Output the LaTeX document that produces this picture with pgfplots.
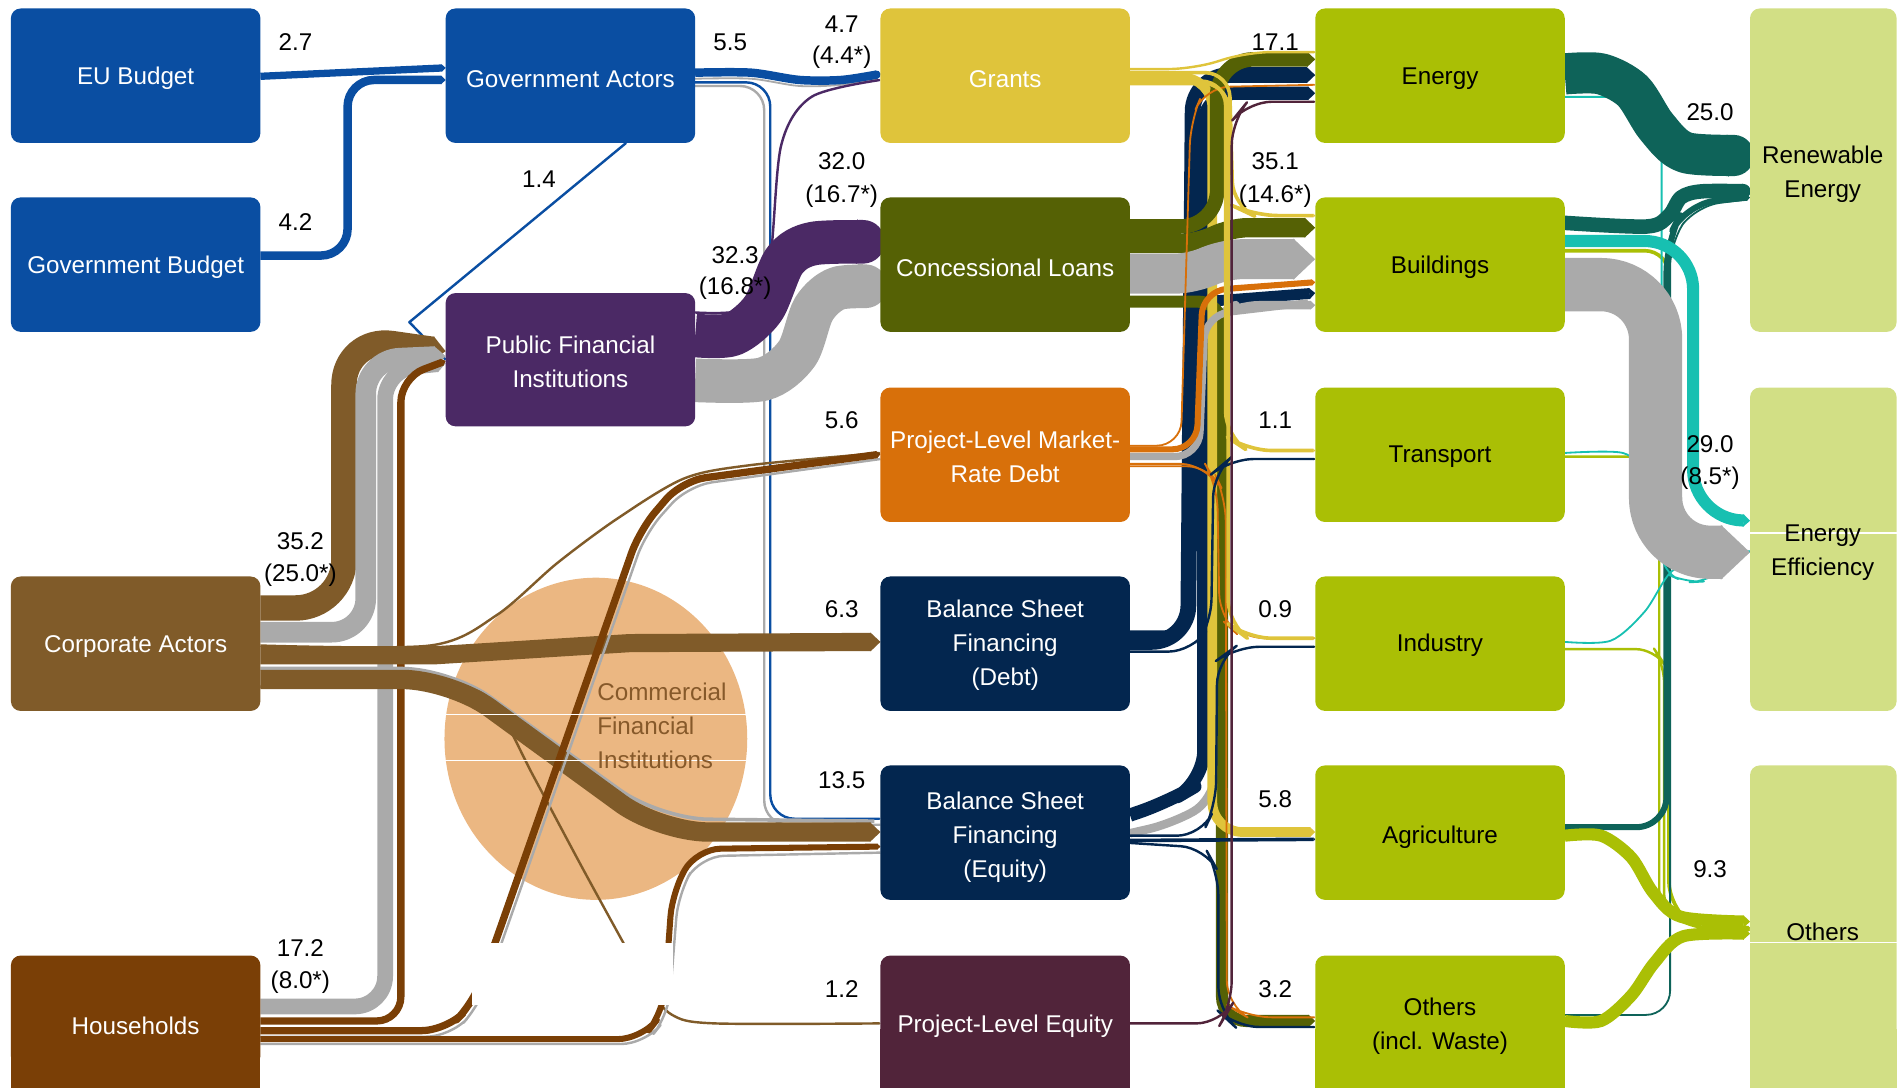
\documentclass[border=0pt]{standalone}
\usepackage{fontspec}
\setmainfont{Liberation Sans}
\usepackage{pgfplots}
\pgfplotsset{compat=1.18}
\usetikzlibrary{arrows.meta}
\definecolor{cBlue}{HTML}{0A4EA2}
\definecolor{cPurp}{HTML}{4B2965}
\definecolor{cCorp}{HTML}{805B29}
\definecolor{cHous}{HTML}{7A3F06}
\definecolor{cGrey}{HTML}{AAAAAA}
\definecolor{cYel}{HTML}{DFC43B}
\definecolor{cOlive}{HTML}{556105}
\definecolor{cOrg}{HTML}{D8700A}
\definecolor{cNavy}{HTML}{03264F}
\definecolor{cMar}{HTML}{51243A}
\definecolor{cLime}{HTML}{AABF05}
\definecolor{cLight}{HTML}{D2DF85}
\definecolor{cTeal}{HTML}{0E6359}
\definecolor{cTurq}{HTML}{17C0B1}
\definecolor{cCirc}{HTML}{EBB782}
\definecolor{cCircT}{HTML}{86592A}
\newcommand\fs{\fontsize{20}{28}\selectfont}
\tikzset{tip/.style={-{Triangle[length=0pt 0.55, width=0pt 1]}}}
\newcommand\bx[5]{\addplot[fill=#5, draw=none, rounded corners=8pt] coordinates {(#1,#2)(#3,#2)(#3,#4)(#1,#4)} -- cycle;}
\newcommand\bxb[4]{\addplot[fill=#4, draw=none, rounded corners=8pt] coordinates {(#1,#2)(#3,#2)(#3,880)(#1,880)} -- cycle;
\addplot[fill=#4, draw=none] coordinates {(#1,850)(#3,850)(#3,898)(#1,898)} -- cycle;}
\begin{document}
\begin{tikzpicture}
\begin{axis}[width=1568pt,height=898pt,scale only axis,xmin=0,xmax=1568,ymin=0,ymax=898,y dir=reverse,axis lines=none,clip=true,
  every axis plot/.append style={no markers, line cap=butt, line join=round, forget plot}]
% circle
\fill[cCirc] (axis cs:492,610) ellipse [x radius=125, y radius=133];
% ---- column 1 -> 2
\addplot[draw=cBlue, line width=6pt, tip] coordinates {(215,63)(368,56)};
\addplot[draw=cBlue, line width=7pt, rounded corners=22pt, tip] coordinates {(215,211)(287,211)(287,66)(368,66)};
% ---- Government Actors out
\addplot[draw=cGrey, line width=1.5pt, smooth] coordinates {(574,65)(620,65)(660,71)(695,70)(725,65)};
\addplot[draw=cBlue, line width=7pt, smooth, tip] coordinates {(574,60)(620,60)(660,66)(695,66)(727,61)};
\addplot[draw=cBlue, line width=2pt] coordinates {(517,118)(338,266)(368,297)};
\addplot[draw=cGrey, line width=2pt, rounded corners=20pt] coordinates {(574,71)(631,71)(631,681)(727,681)};
\addplot[draw=cBlue, line width=2pt, rounded corners=20pt, tip] coordinates {(574,68)(636,68)(636,676)(727,676)};
% ---- PFI out
\addplot[draw=cPurp, line width=2pt, smooth, tip] coordinates {(574,258)(615,255)(635,220)(645,120)(670,80)(727,66)};
\addplot[draw=cGrey, line width=36pt, smooth, tip] coordinates {(574,314)(630,313)(658,292)(672,255)(692,238)(727,237)};
\addplot[draw=cPurp, line width=36pt, smooth, tip] coordinates {(574,277)(605,276)(630,255)(648,215)(672,201)(727,200)};
% ---- Corporate actors out
\addplot[draw=cCorp, line width=21pt, rounded corners=40pt, tip] coordinates {(215,502)(284,502)(284,278)(368,290)};
\addplot[draw=cGrey, line width=17pt, rounded corners=28pt, tip] coordinates {(215,522)(302,522)(302,297)(368,294)};
% ---- Households to PFI
\addplot[draw=cGrey, line width=13pt, rounded corners=25pt, tip] coordinates {(215,831)(318,831)(318,305)(368,300)};
\addplot[draw=cHous, line width=6pt, rounded corners=20pt, tip] coordinates {(215,843)(331,843)(331,312)(368,298)};
% corporate to BSF debt / equity / market debt / equity
\addplot[draw=cCorp, line width=15pt, tip] coordinates {(215,541)(360,541)(520,531)(727,530)};
\addplot[draw=cGrey, line width=3pt, rounded corners=40pt] coordinates {(215,552)(372,552)(545,676)(722,678)};
\addplot[draw=cCorp, line width=16pt, rounded corners=40pt, tip] coordinates {(215,561)(372,561)(545,687)(727,687)};
\addplot[draw=cCorp, line width=2pt, smooth, tip] coordinates {(215,533)(355,533)(410,508)(460,465)(510,428)(565,395)(620,384)(727,374)};
\addplot[draw=cCorp, line width=2pt, smooth, tip] coordinates {(215,567)(375,567)(410,585)(440,640)(480,715)(515,779)(535,815)(555,838)(590,845)(727,845)};
% households to market debt and BSF equity
\addplot[draw=cGrey, line width=2pt, rounded corners=20pt] coordinates {(215,856)(372,856)(396,830)(414,779)(533,440)(568,401)(727,379)};
\addplot[draw=cHous, line width=6pt, rounded corners=20pt, tip] coordinates {(215,851)(368,851)(391,828)(409,778)(528,438)(563,397)(727,375)};
\addplot[draw=cGrey, line width=2pt, rounded corners=20pt] coordinates {(215,862)(533,862)(552,838)(560,738)(578,707)(727,704)};
\addplot[draw=cHous, line width=5pt, rounded corners=20pt, tip] coordinates {(215,858)(530,858)(548,835)(555,737)(575,701)(727,699)};
% white mask
\fill[white] (axis cs:390,779) rectangle (axis cs:556,830);
\draw[white, line width=1.2pt] (axis cs:367,590) -- (axis cs:617,590);
\draw[white, line width=1.2pt] (axis cs:367,628) -- (axis cs:617,628);
% ---- column 3 -> 4
\addplot[draw=cNavy, line width=9pt, rounded corners=20pt, tip] coordinates {(933,525)(981,525)(983,250)(1086,242)};
\addplot[draw=cGrey, line width=7pt, rounded corners=20pt, tip] coordinates {(933,688)(968,680)(1003,660)(1003,262)(1020,252)(1086,252)};
\addplot[draw=cNavy, line width=13pt, rounded corners=30pt, tip] coordinates {(933,530)(981,530)(985,62)(1086,62)};
\addplot[draw=cNavy, line width=11pt, rounded corners=25pt, tip] coordinates {(933,673)(965,662)(994,645)(994,77)(1086,77)};
\addplot[draw=cOlive, line width=10pt, rounded corners=20pt, tip] coordinates {(933,249)(1009,249)(1009,843)(1086,843)};
\addplot[draw=cYel, line width=8pt, rounded corners=25pt, tip] coordinates {(933,64)(1001,64)(1001,687)(1086,687)};
\addplot[draw=cOlive, line width=12pt, rounded corners=30pt, tip] coordinates {(933,187)(1005,187)(1005,49)(1086,49)};
\addplot[draw=cOlive, line width=16pt, rounded corners=15pt, tip] coordinates {(933,201)(990,201)(1015,188)(1086,188)};
\addplot[draw=cGrey, line width=33pt, rounded corners=15pt, tip] coordinates {(933,226)(985,226)(1010,214)(1086,214)};
\addplot[draw=cGrey, line width=6pt, rounded corners=20pt] coordinates {(933,377)(990,377)(995,260)(1080,250)};
\addplot[draw=cOrg, line width=5pt, rounded corners=20pt, tip] coordinates {(933,371)(988,371)(993,240)(1086,233)};
\addplot[draw=cOrg, line width=1.5pt, rounded corners=20pt, tip] coordinates {(933,368)(975,368)(983,100)(995,72)(1086,70)};
\addplot[draw=cOrg, line width=1.5pt, rounded corners=20pt, tip] coordinates {(933,383)(995,383)(1005,400)(1007,510)(1025,527)(1086,527)};
\addplot[draw=cOrg, line width=1.5pt, rounded corners=20pt, tip] coordinates {(933,385)(1000,385)(1012,410)(1013,830)(1030,840)(1086,840)};
\addplot[draw=cYel, line width=2pt, rounded corners=20pt, tip] coordinates {(933,57)(985,57)(1030,43)(1086,43)};
\addplot[draw=cYel, line width=3pt, rounded corners=20pt, tip] coordinates {(933,60)(1015,60)(1018,170)(1035,178)(1086,178)};
\addplot[draw=cYel, line width=3pt, rounded corners=20pt, tip] coordinates {(933,67)(1012,67)(1012,360)(1030,372)(1086,372)};
\addplot[draw=cYel, line width=3pt, rounded corners=20pt, tip] coordinates {(933,69)(1014,69)(1014,515)(1030,527)(1086,527)};
\addplot[draw=cNavy, line width=2pt, rounded corners=20pt, tip] coordinates {(933,538)(985,538)(1000,515)(1002,390)(1015,379)(1086,379)};
\addplot[draw=cNavy, line width=2pt, rounded corners=20pt, tip] coordinates {(933,690)(992,690)(1004,665)(1005,545)(1020,534)(1086,534)};
\addplot[draw=cNavy, line width=3pt, tip] coordinates {(933,694)(1086,693)};
\addplot[draw=cNavy, line width=2pt, rounded corners=20pt, tip] coordinates {(933,696)(995,700)(1006,720)(1006,835)(1020,848)(1086,848)};
\addplot[draw=cMar, line width=2pt, rounded corners=20pt, tip] coordinates {(933,845)(1008,845)(1017,830)(1017,100)(1030,84)(1086,84)};
% ---- column 4 -> 5
\addplot[draw=cLime, line width=3pt, rounded corners=20pt, tip] coordinates {(1292,207)(1378,207)(1378,748)(1398,764)(1445,766)};
\addplot[draw=cLime, line width=2pt, rounded corners=15pt, tip] coordinates {(1292,377)(1360,377)(1370,390)(1370,750)(1395,765)(1445,767)};
\addplot[draw=cLime, line width=2pt, rounded corners=15pt, tip] coordinates {(1292,536)(1366,536)(1374,548)(1374,752)(1395,766)(1445,768)};
\addplot[draw=cTeal, line width=1.5pt, rounded corners=20pt] coordinates {(1292,838)(1379,838)(1379,200)(1400,170)(1440,165)};
\addplot[draw=cTeal, line width=5pt, rounded corners=25pt, tip] coordinates {(1292,683)(1376,683)(1376,200)(1392,168)(1445,163)};
\addplot[draw=cTurq, line width=1.5pt, rounded corners=15pt, tip] coordinates {(1292,80)(1372,80)(1372,472)(1392,481)(1410,480)(1445,455)};
\addplot[draw=cTurq, line width=1.5pt, smooth, tip] coordinates {(1292,530)(1330,529)(1358,505)(1380,472)(1408,460)(1445,455)};
\addplot[draw=cTurq, line width=1.5pt, smooth] coordinates {(1292,374)(1340,374)(1358,392)(1366,430)(1385,452)(1440,455)};
\addplot[draw=cGrey, line width=44pt, rounded corners=45pt, tip] coordinates {(1292,235)(1367,235)(1367,456)(1445,456)};
\addplot[draw=cTurq, line width=10pt, rounded corners=40pt, tip] coordinates {(1292,199)(1398,199)(1398,428)(1445,430)};
\addplot[draw=cTeal, line width=34pt, smooth, tip] coordinates {(1292,61)(1322,61)(1348,75)(1368,105)(1392,126)(1445,128)};
\addplot[draw=cTeal, line width=12pt, smooth, tip] coordinates {(1292,184)(1360,187)(1378,178)(1388,163)(1405,158)(1445,158)};
\addplot[draw=cLime, line width=10pt, smooth, tip] coordinates {(1292,690)(1322,690)(1347,708)(1365,737)(1388,757)(1445,761)};
\addplot[draw=cLime, line width=10pt, smooth, tip] coordinates {(1292,843)(1322,843)(1347,822)(1366,795)(1390,773)(1445,771)};
% ---- boxes
\bx{9}{7}{215}{118}{cBlue}
\bx{9}{163}{215}{274}{cBlue}
\bx{9}{476}{215}{587}{cCorp}
\bxb{9}{789}{215}{cHous}
\bx{368}{7}{574}{118}{cBlue}
\bx{368}{242}{574}{352}{cPurp}
\bx{727}{7}{933}{118}{cYel}
\bx{727}{163}{933}{274}{cOlive}
\bx{727}{320}{933}{431}{cOrg}
\bx{727}{476}{933}{587}{cNavy}
\bx{727}{632}{933}{743}{cNavy}
\bxb{727}{789}{933}{cMar}
\bx{1086}{7}{1292}{118}{cLime}
\bx{1086}{163}{1292}{274}{cLime}
\bx{1086}{320}{1292}{431}{cLime}
\bx{1086}{476}{1292}{587}{cLime}
\bx{1086}{632}{1292}{743}{cLime}
\bxb{1086}{789}{1292}{cLime}
\bx{1445}{7}{1566}{274}{cLight}
\bx{1445}{320}{1566}{587}{cLight}
\bxb{1445}{632}{1566}{cLight}
\draw[white, line width=1.2pt] (axis cs:1445,440) -- (axis cs:1566,440);
\draw[white, line width=1.2pt] (axis cs:1445,778) -- (axis cs:1566,778);
% ---- box texts
\begin{scope}[every node/.style={font=\fs, align=center, inner sep=0pt, yshift=-2pt}]
\node[text=white] at (axis cs:112,63) {EU Budget};
\node[text=white] at (axis cs:112,219) {Government Budget};
\node[text=white] at (axis cs:112,532) {Corporate Actors};
\node[text=white] at (axis cs:112,845) {Households};
\node[text=white] at (axis cs:471,63) {Government Actors};
\node[text=white] at (axis cs:471,297) {Public Financial\\Institutions};
\node[text=white] at (axis cs:830,63) {Grants};
\node[text=white] at (axis cs:830,219) {Concessional Loans};
\node[text=white] at (axis cs:830,375) {Project-Level Market-\\Rate Debt};
\node[text=white] at (axis cs:830,531) {Balance Sheet\\Financing\\(Debt)};
\node[text=white] at (axis cs:830,689) {Balance Sheet\\Financing\\(Equity)};
\node[text=white] at (axis cs:830,845) {Project-Level Equity};
\node at (axis cs:1189,63) {Energy};
\node at (axis cs:1189,219) {Buildings};
\node at (axis cs:1189,375) {Transport};
\node at (axis cs:1189,531) {Industry};
\node at (axis cs:1189,689) {Agriculture};
\node at (axis cs:1189,845) {Others\\(incl. Waste)};
\node at (axis cs:1505,142) {Renewable\\Energy};
\node at (axis cs:1505,454) {Energy\\Efficiency};
\node at (axis cs:1505,767) {Others};
\node[text=cCircT, align=left, anchor=west] at (axis cs:493,597) {Commercial\\Financial\\Institutions};
\end{scope}
% value labels
\begin{scope}[every node/.style={font=\fs, align=center, inner sep=0pt}]
\node at (axis cs:244,35) {2.7};
\node at (axis cs:244,183) {4.2};
\node at (axis cs:603,35) {5.5};
\node at (axis cs:695,20) {4.7};
\node at (axis cs:695,47) {(4.4*)};
\node at (axis cs:445,148) {1.4};
\node at (axis cs:607,211) {32.3};
\node at (axis cs:607,238) {(16.8*)};
\node at (axis cs:695,133) {32.0};
\node at (axis cs:695,162) {(16.7*)};
\node at (axis cs:248,447) {35.2};
\node at (axis cs:248,475) {(25.0*)};
\node at (axis cs:695,347) {5.6};
\node at (axis cs:695,503) {6.3};
\node at (axis cs:695,644) {13.5};
\node at (axis cs:248,783) {17.2};
\node at (axis cs:248,811) {(8.0*)};
\node at (axis cs:695,817) {1.2};
\node at (axis cs:1053,35) {17.1};
\node at (axis cs:1053,133) {35.1};
\node at (axis cs:1053,162) {(14.6*)};
\node at (axis cs:1053,347) {1.1};
\node at (axis cs:1053,503) {0.9};
\node at (axis cs:1053,660) {5.8};
\node at (axis cs:1053,817) {3.2};
\node at (axis cs:1412,93) {25.0};
\node at (axis cs:1412,367) {29.0};
\node at (axis cs:1412,395) {(8.5*)};
\node at (axis cs:1412,718) {9.3};
\end{scope}
\end{axis}
\path (current axis.south west) rectangle (current axis.north east);
\end{tikzpicture}
\end{document}
